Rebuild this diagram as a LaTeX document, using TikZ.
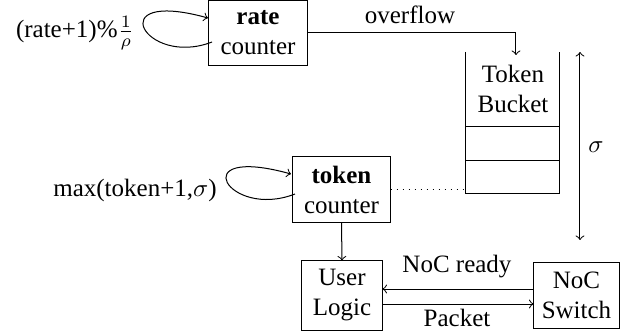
\documentclass[tikz,border=0pt]{standalone}
\usepackage{fontspec}
\setmainfont{Liberation Serif}
\usetikzlibrary{calc}
\begin{document}
\begin{tikzpicture}[x=0.4pt,y=-0.4pt,>=to,
  box/.style={draw, align=center, inner sep=0pt},
  lbl/.style={inner sep=0pt, align=center}]
\useasboundingbox (0,0) rectangle (642,333);
% boxes
\node[box, minimum width=39.2pt, minimum height=25.6pt] (rate) at (258,33) {\textbf{rate}\\counter};
\node[box, minimum width=38.8pt, minimum height=26pt] (token) at (341.5,189.5) {\textbf{token}\\counter};
\node[box, minimum width=32pt, minimum height=27.6pt] (user) at (342,295.5) {User\\Logic};
\node[box, minimum width=34pt, minimum height=26pt] (noc) at (576.5,295.5) {NoC\\Switch};
% bucket
\coordinate (btl) at (466,52);
\coordinate (btr) at (560,52);
\coordinate (bbl) at (466,194);
\coordinate (bbr) at (560,194);
\coordinate (bm1l) at (466,127);
\coordinate (bm1r) at (560,127);
\coordinate (bm2l) at (466,161);
\coordinate (bm2r) at (560,161);
\draw (btl) -- (bbl) -- (bbr) -- (btr);
\draw (bm1l) -- (bm1r);
\draw (bm2l) -- (bm2r);
\node[lbl] (bucket) at (513,89) {Token\\Bucket};
% labels
\node[lbl] (ratelbl) at (75,33) {(rate+1)\%$\frac{1}{\rho}$};
\node[lbl] (maxlbl) at (135,190) {max(token+1,$\sigma$)};
\node[lbl] (ovf) at (410,15) {overflow};
\node[lbl] (rdy) at (457,267) {NoC ready};
\node[lbl] (pkt) at (457,318) {Packet};
\node[lbl] (sig) at (596,147) {$\sigma$};
% loops
\coordinate (rs) at (212,42);
\coordinate (re) at (208,18);
\draw[->] (rs) .. controls (145,68) and (100,-12) .. (re);
\coordinate (ts) at (295,194);
\coordinate (te) at (291,174);
\draw[->] (ts) .. controls (228,220) and (183,144) .. (te);
% connectors
\coordinate (bin) at (516,55);
\draw[->] (rate.east) -| (bin);
\draw[dotted] (token.east) -- (token.east -| bbl);
\coordinate (sigt) at (580,52);
\coordinate (sigb) at (580,240);
\draw[<->] (sigt) -- (sigb);
\draw[->] (token.south) -- (user.north);
\coordinate (ry) at (0,289);
\coordinate (py) at (0,304);
\draw[->] (noc.west |- ry) -- (user.east |- ry);
\draw[->] (user.east |- py) -- (noc.west |- py);
\end{tikzpicture}
\end{document}
